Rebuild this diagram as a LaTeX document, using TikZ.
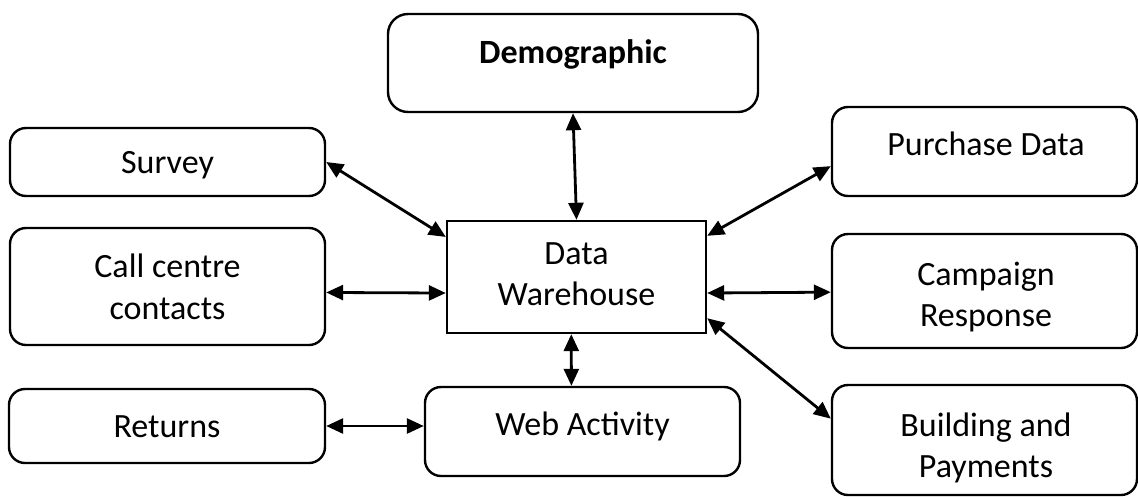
\documentclass[tikz,border=0pt]{standalone}
\usepackage{fontspec}
\setmainfont{Carlito}
\usetikzlibrary{arrows.meta,calc}
\begin{document}
\begin{tikzpicture}[x=1pt,y=-1pt,
  rbox/.style={draw, line width=2.4pt, rounded corners=16pt, inner sep=0pt},
  sbox/.style={draw, line width=2.4pt, inner sep=0pt},
  lbl/.style={font=\fontsize{34}{41.5}\selectfont, inner sep=0pt, align=center},
  one/.style={lbl, text height=22pt, text depth=0pt},
  tip/.tip={Triangle[length=17pt,width=15pt]},
  link/.style={line width=2.8pt, tip-tip}
]
\useasboundingbox (0,0) rectangle (1138,496);

% boxes
\node[rbox, rounded corners=20pt, minimum width=370pt, minimum height=98pt] (demo) at (573,63) {};
\node[rbox, minimum width=315pt, minimum height=68pt]  (survey)   at (167.5,162) {};
\node[rbox, minimum width=315pt, minimum height=117pt] (call)     at (167.5,286.5) {};
\node[rbox, minimum width=316pt, minimum height=74pt]  (returns)  at (167,426) {};
\node[sbox, minimum width=259pt, minimum height=112pt] (dw)       at (576.5,277) {};
\node[rbox, minimum width=315pt, minimum height=89pt]  (web)      at (582.5,431.5) {};
\node[rbox, minimum width=305pt, minimum height=89pt]  (purchase) at (984.5,151.5) {};
\node[rbox, minimum width=305pt, minimum height=114pt] (campaign) at (984.5,291) {};
\node[rbox, minimum width=305pt, minimum height=110pt] (building) at (984.5,440) {};

% labels
\node[one, font=\fontsize{34}{41.5}\selectfont\bfseries] (demo-t) at (573,52) {Demographic};
\node[one] (survey-t)   at (167.5,162) {Survey};
\node[lbl] (call-t)     at (167.5,287) {Call centre\\contacts};
\node[one] (returns-t)  at (167,426) {Returns};
\node[lbl] (dw-t)       at (576.5,274) {Data\\Warehouse};
\node[one] (web-t)      at (582.5,424) {Web Activity};
\node[one] (purchase-t) at (986,144) {Purchase Data};
\node[lbl] (campaign-t) at (986,297) {Campaign\\Response};
\node[lbl] (building-t) at (986,448) {Building and\\Payments};

% connector ends on the box borders
\coordinate (dwW1) at ($(dw.north west)!0.15!(dw.south west)$);
\coordinate (dwW2) at ($(dw.north west)!0.64!(dw.south west)$);
\coordinate (callE) at ($(call.north east)!0.55!(call.south east)$);
\coordinate (dwE1) at ($(dw.north east)!0.14!(dw.south east)$);
\coordinate (dwE2) at ($(dw.north east)!0.64!(dw.south east)$);
\coordinate (dwE3) at ($(dw.north east)!0.86!(dw.south east)$);
\coordinate (purW) at ($(purchase.north west)!0.66!(purchase.south west)$);
\coordinate (camW) at ($(campaign.north west)!0.51!(campaign.south west)$);
\coordinate (bldW) at ($(building.north west)!0.31!(building.south west)$);
\coordinate (dwS) at ($(dw.south west)!0.48!(dw.south east)$);
\coordinate (webN) at ($(web.north west)!0.465!(web.north east)$);

% connectors
\draw[link] (demo.south) -- (dw.north);
\draw[link] (survey.east) -- (dwW1);
\draw[link] (callE) -- (dwW2);
\draw[link] (returns.east) -- (returns.east -| web.west);
\draw[link] (dwS) -- (webN);
\draw[link] (purW) -- (dwE1);
\draw[link] (camW) -- (dwE2);
\draw[link] (bldW) -- (dwE3);
\end{tikzpicture}
\end{document}
